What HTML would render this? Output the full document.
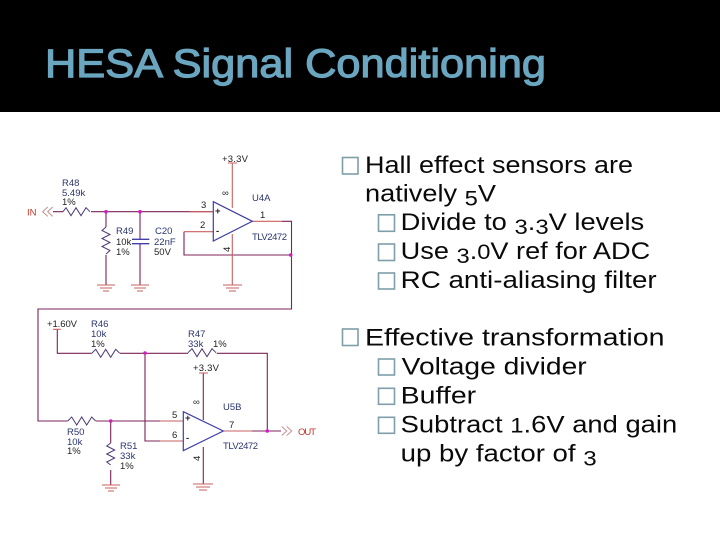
<!DOCTYPE html>
<html>
<head>
<meta charset="utf-8">
<style>
html,body{margin:0;padding:0;background:#fff;width:720px;height:540px;overflow:hidden}
svg{display:block}
.t{font-family:"Liberation Sans",sans-serif;font-size:24px;fill:#0a0a0a}
.d{font-size:21px}
.l{font-family:"Liberation Sans",sans-serif;font-size:9.5px;fill:#2a3570}
.k{font-family:"Liberation Sans",sans-serif;font-size:9.5px;fill:#222}
.r{font-family:"Liberation Sans",sans-serif;font-size:9.5px;fill:#c0392b}
.w{fill:none;stroke:#7d2458;stroke-width:1.1}
.p{fill:none;stroke:#c9605f;stroke-width:1.1}
.z{fill:none;stroke:#4d3a78;stroke-width:1}
.g{fill:none;stroke:#c9605f;stroke-width:1.1}
.o{fill:none;stroke:#3f3fa6;stroke-width:1.2}
.b{fill:none;stroke:#7f9ea8;stroke-width:1.6}
.n{fill:#d01fc0}
.c{filter:blur(.3px)}
</style>
</head>
<body>
<svg width="720" height="540" viewBox="0 0 720 540" xmlns="http://www.w3.org/2000/svg">
<rect width="720" height="540" fill="#fff"/>
<rect width="720" height="112" fill="#000"/>
<text x="45" y="77" font-family="Liberation Sans, sans-serif" font-size="40" fill="#6aa6bf" stroke="#6aa6bf" stroke-width="1.2" textLength="501" lengthAdjust="spacingAndGlyphs">HESA Signal Conditioning</text>

<g class="c">
<path class="w" d="M53 211.7H63M91 211.7H213M106 211.7V227M106 255V285M140 211.7V239.3M140 243.7V285"/>
<path class="w" d="M184 231.7V255H290.7M282 221.3H291.5V309H38V421H67.7M96 421H183.3M110.7 421V443M110.7 470V485"/>
<path class="w" d="M57.3 329V353.3H91.7M120 353.3H188M216.7 353.3H267.3V431M145 352.7V441H183.3M203.3 373V420M203.3 447V484M223.3 431H281"/>
<path class="p" d="M190 211.7H213M232.3 163V208M232.3 234V285M184 231.7H213M252.3 221.3H282M228 163H237"/>
<path class="p" d="M53 329.3H60.7M199 373H208M160 421H183M160 441H183M223.3 431H252"/>
<path class="z" d="M63 211.7l3-4 5 8 5-8 5 8 5-8 4 4M106 227l-4 3.500 8 4-8 4 8 4-8 4 8 4-4 3.500M91.700 353.300l4-4 5 8 5-8 5 8 5-8 4 4M188 352.700l4-4 5 8 5-8 5 8 5-8 4 4M67.700 421l4-4 5 8 5-8 5 8 5-8 4 4M110.700 443l-4 3 8 4-8 4 8 4-8 4 4 3"/>
<path d="M132 239.300H149.300M132 243.700H149.300" stroke="#3f3fa6" stroke-width="1.400" fill="none"/>
<path d="M52.700 207l-5 4.700 5 4.700M47.700 207l-5 4.700 5 4.700" fill="none" stroke="#c9908f" stroke-width="1"/>
<path d="M281.700 426.500l5 4.500-5 4.500M286.700 426.500l5 4.500-5 4.500" fill="none" stroke="#c9908f" stroke-width="1"/>
<path class="o" d="M213.300 201.700L252.300 221.300L213.300 241Z"/>
<path class="o" d="M183.300 411.700L223.300 431L183.300 450.700Z"/>
<path class="g" d="M97 285H115M100 288H112M103 291H109M131 285H149M134 288H146M137 291H143M223 285H242M226 288H239M229 291H236M102 485H120M105 488H117M108 491H114M193 484H213M196 487H210M199 490H207"/>
<circle class="n" cx="106" cy="211.700" r="1.800"/><circle class="n" cx="140" cy="211.700" r="1.800"/><circle class="n" cx="290.700" cy="255" r="1.800"/><circle class="n" cx="145" cy="353" r="1.800"/><circle class="n" cx="110.700" cy="421" r="1.800"/><circle class="n" cx="267.300" cy="431" r="1.800"/>

<text class="k" x="222" y="162" textLength="26">+3.3V</text>
<text class="l" x="62" y="186">R48</text>
<text class="l" x="62" y="196">5.49k</text>
<text class="k" x="62" y="205">1%</text>
<text class="r" x="27" y="215.500" font-size="9">IN</text>
<text class="l" x="116" y="234">R49</text>
<text class="k" x="116" y="245">10k</text>
<text class="k" x="116" y="255">1%</text>
<text class="l" x="155" y="234">C20</text>
<text class="l" x="154" y="245">22nF</text>
<text class="k" x="154" y="255">50V</text>
<text class="k" x="201" y="208">3</text>
<text class="k" x="200" y="228">2</text>
<text class="l" x="252" y="201">U4A</text>
<text class="k" x="260" y="218">1</text>
<text class="l" x="252" y="240" textLength="35">TLV2472</text>
<text class="k" x="222" y="196" font-size="8">∞</text>
<text class="k" x="224" y="252" font-size="8" transform="rotate(-90 227 249)">4</text>
<text class="k" x="47" y="327" textLength="30">+1.60V</text>
<text class="l" x="91" y="327">R46</text>
<text class="l" x="91" y="337">10k</text>
<text class="k" x="91" y="347">1%</text>
<text class="l" x="188" y="337">R47</text>
<text class="l" x="188" y="347">33k</text>
<text class="k" x="213" y="347">1%</text>
<text class="k" x="193" y="371" textLength="26">+3.3V</text>
<text class="l" x="223" y="410">U5B</text>
<text class="k" x="172" y="418">5</text>
<text class="k" x="172" y="438">6</text>
<text class="k" x="229" y="428">7</text>
<text class="l" x="223" y="449" textLength="35">TLV2472</text>
<text class="r" x="298" y="435" textLength="18">OUT</text>
<text class="l" x="67" y="435">R50</text>
<text class="l" x="67" y="445">10k</text>
<text class="k" x="67" y="454">1%</text>
<text class="l" x="120" y="449">R51</text>
<text class="l" x="120" y="459">33k</text>
<text class="k" x="120" y="469">1%</text>
<text class="k" x="193" y="405" font-size="8">∞</text>
<text class="k" x="194" y="461" font-size="8" transform="rotate(-90 197 458)">4</text>
<text class="k" x="185" y="421" font-size="9" font-weight="bold" fill="#3f3fa6">+</text>
<text class="k" x="186" y="441" font-size="9" font-weight="bold">-</text>
<text class="k" x="215" y="214" font-size="9" font-weight="bold" fill="#3f3fa6">+</text>
<text class="k" x="216" y="234" font-size="9" font-weight="bold">-</text>
</g>

<rect class="b" x="342.500" y="157.500" width="15.500" height="16.500"/>
<rect class="b" x="378.500" y="214.800" width="16" height="16.500"/>
<rect class="b" x="378.500" y="244" width="16" height="16.500"/>
<rect class="b" x="378.500" y="273" width="16" height="16"/>
<rect class="b" x="342.500" y="329" width="15.500" height="16.500"/>
<rect class="b" x="378.500" y="359" width="16" height="16"/>
<rect class="b" x="378.500" y="388.300" width="16" height="16"/>
<rect class="b" x="378.500" y="417.300" width="16" height="16"/>

<text class="t" x="365" y="173" textLength="268" lengthAdjust="spacingAndGlyphs">Hall effect sensors are</text>
<text class="t" x="365" y="201.500" textLength="131" lengthAdjust="spacingAndGlyphs">natively <tspan class="d" dy="4">5</tspan><tspan dy="-4">V</tspan></text>
<text class="t" x="400.700" y="230" textLength="243.500" lengthAdjust="spacingAndGlyphs">Divide to <tspan class="d" dy="4">3</tspan><tspan dy="-4">.</tspan><tspan class="d" dy="4">3</tspan><tspan dy="-4">V levels</tspan></text>
<text class="t" x="400.700" y="259" textLength="249.500" lengthAdjust="spacingAndGlyphs">Use <tspan class="d" dy="4">3</tspan><tspan dy="-4">.</tspan><tspan class="d">0</tspan>V ref for ADC</text>
<text class="t" x="400.700" y="288" textLength="256" lengthAdjust="spacingAndGlyphs">RC anti-aliasing filter</text>
<text class="t" x="365" y="345.500" textLength="299.500" lengthAdjust="spacingAndGlyphs">Effective transformation</text>
<text class="t" x="401.700" y="374.300" textLength="185" lengthAdjust="spacingAndGlyphs">Voltage divider</text>
<text class="t" x="400.700" y="403.300" textLength="75.500" lengthAdjust="spacingAndGlyphs">Buffer</text>
<text class="t" x="400.700" y="432.500" textLength="276.500" lengthAdjust="spacingAndGlyphs">Subtract <tspan class="d">1</tspan>.6V and gain</text>
<text class="t" x="400.700" y="461.500" textLength="196" lengthAdjust="spacingAndGlyphs">up by factor of <tspan class="d" dy="4">3</tspan></text>
</svg>
</body>
</html>
